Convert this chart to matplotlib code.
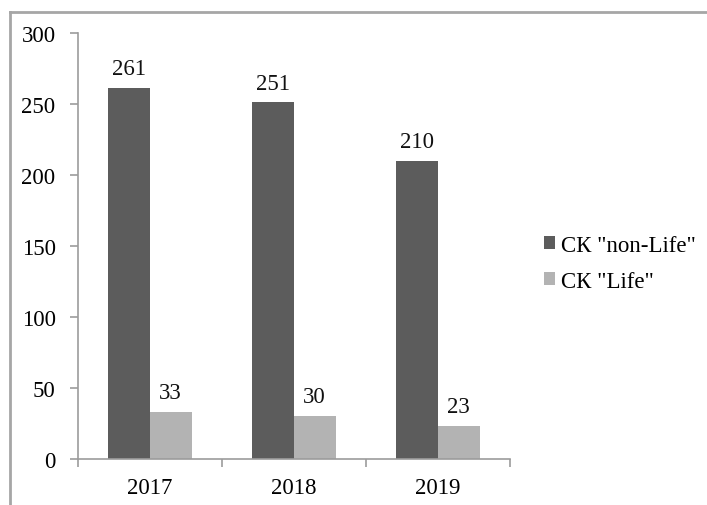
import numpy as np
import matplotlib.pyplot as plt
from matplotlib.lines import Line2D

plt.rcParams['font.family'] = ['Liberation Serif', 'DejaVu Serif']

years = ['2017', '2018', '2019']
non_life = [261, 251, 210]
life = [33, 30, 23]
series_names = ['СК "non-Life"', 'СК "Life"']
colors = ['#5c5c5c', '#b3b3b3']

fs = 16.5

fig = plt.figure(figsize=(7.07, 5.06), dpi=100)
ax = fig.add_axes([0.110, 0.091, 0.611, 0.842])

x = np.arange(len(years))
w = 0.29
bars1 = ax.bar(x - w / 2, non_life, w, color=colors[0], label=series_names[0])
bars2 = ax.bar(x + w / 2, life, w, color=colors[1], label=series_names[1])

# value labels above bars
for bars, vals in [(bars1, non_life), (bars2, life)]:
    for b, v in zip(bars, vals):
        ax.annotate(str(v), (b.get_x() + b.get_width() / 2, v),
                    xytext=(0, 10), textcoords='offset points',
                    ha='center', va='baseline', fontsize=fs, color='#111111')

ax.set_xlim(-0.5, 2.5)
ax.set_ylim(0, 300)
ax.set_yticks(range(0, 301, 50))
ax.set_xticks([-0.5, 0.5, 1.5, 2.5], minor=False)
ax.set_xticklabels([])
ax.set_xticks(x, minor=True)
ax.set_xticklabels(years, minor=True)

grey = '#9c9c9c'
for s in ['top', 'right']:
    ax.spines[s].set_visible(False)
for s in ['left', 'bottom']:
    ax.spines[s].set_color(grey)
    ax.spines[s].set_linewidth(1.2)

ax.tick_params(axis='y', which='major', direction='out', length=6, width=1.2,
               color=grey, pad=10, labelsize=fs)
ax.tick_params(axis='x', which='major', direction='out', length=6, width=1.2,
               color=grey)
ax.tick_params(axis='x', which='minor', length=0, pad=13, labelsize=fs)

ax.legend(loc='center left', bbox_to_anchor=(0.756, 0.478),
          bbox_transform=fig.transFigure, frameon=False, fontsize=fs,
          handlelength=0.5, handleheight=0.5, handletextpad=0.25,
          labelspacing=0.65, borderaxespad=0)

# chart border (top and left edges visible in the crop)
fig.add_artist(Line2D([0.0135, 1.0], [0.974, 0.974], transform=fig.transFigure,
                      color='#a6a6a6', lw=2))
fig.add_artist(Line2D([0.0135, 0.0135], [0.0, 0.974], transform=fig.transFigure,
                      color='#a6a6a6', lw=2))

fig.savefig('out.png', dpi=100)
